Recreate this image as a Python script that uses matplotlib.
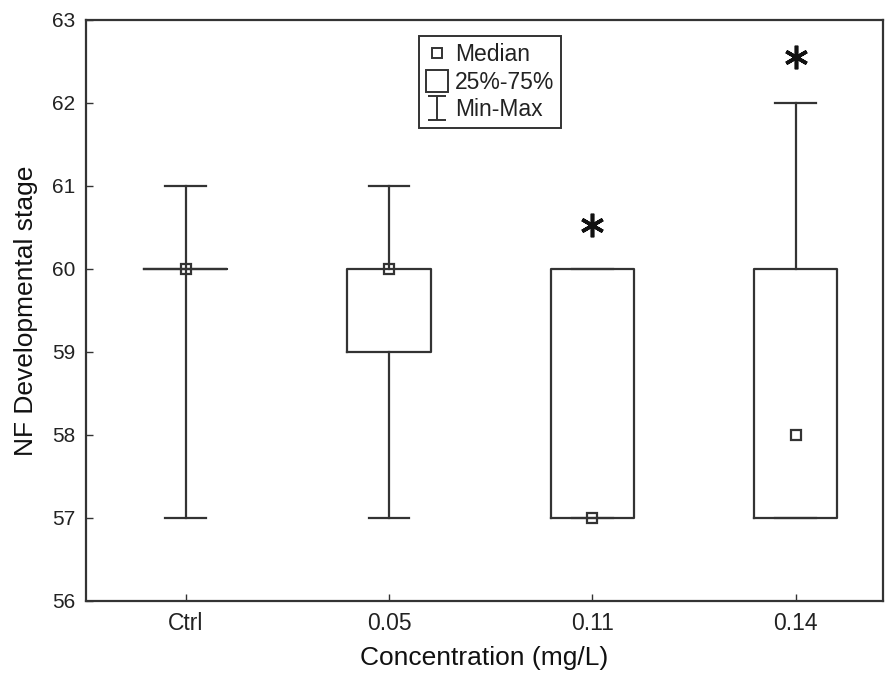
import matplotlib
matplotlib.use('Agg')
import matplotlib.pyplot as plt
from matplotlib.lines import Line2D
from matplotlib.path import Path

plt.rcParams['font.family'] = ['Liberation Sans', 'DejaVu Sans']

categories = ['Ctrl', '0.05', '0.11', '0.14']
medians = [60, 60, 57, 58]
q1 = [60, 59, 57, 57]
q3 = [60, 60, 60, 60]
mins = [57, 57, 57, 57]
maxs = [61, 61, 60, 62]
star_y = [None, None, 60.53, 62.55]

ink = '#333333'
txt = '#222222'

fig = plt.figure(figsize=(8.85, 6.82), dpi=100)
ax = fig.add_axes([0.0972, 0.1188, 0.9005, 0.852])

stats = []
for i, c in enumerate(categories):
    stats.append(dict(label=c, med=medians[i], q1=q1[i], q3=q3[i],
                      whislo=mins[i], whishi=maxs[i]))

pos = list(range(len(categories)))
ax.bxp(stats, positions=pos, widths=0.41, capwidths=0.2, showfliers=False,
       boxprops=dict(color=ink, linewidth=1.6),
       whiskerprops=dict(color=ink, linewidth=1.6),
       capprops=dict(color=ink, linewidth=1.6),
       medianprops=dict(linestyle='none'))
ax.plot(pos, medians, 's', mfc='none', mec=ink, mew=1.6, ms=7.5, linestyle='none')

for x, y in zip(pos, star_y):
    if y is not None:
        ax.plot(x, y, marker=(6, 2, 0), color='#111111', ms=17, mew=2.6)

ax.set_xlim(-0.49, 3.43)
ax.set_ylim(56, 63)
ax.set_xticks(pos)
ax.set_xticklabels(categories)
ax.set_yticks(range(56, 64))
ax.tick_params(direction='in', length=5, width=1, color=ink, labelcolor=txt)
ax.tick_params(axis='y', labelsize=15, pad=8)
ax.tick_params(axis='x', labelsize=16.5, pad=8)
for s in ax.spines.values():
    s.set_color(ink)
    s.set_linewidth(1.6)

ax.set_xlabel('Concentration (mg/L)', fontsize=19, labelpad=8, color='#111111')
ax.set_ylabel('NF Developmental stage', fontsize=19, labelpad=10, color='#111111')

# legend handles: small square, big square, min-max bar
cap_path = Path([(-0.75, -1), (0.75, -1), (0, -1), (0, 1), (-0.75, 1), (0.75, 1)],
                [Path.MOVETO, Path.LINETO, Path.MOVETO, Path.LINETO, Path.MOVETO, Path.LINETO])
handles = [
    Line2D([], [], marker='s', mfc='none', mec=ink, mew=1.4, ms=7.5, linestyle='none'),
    Line2D([], [], marker='s', mfc='none', mec=ink, mew=1.4, ms=16, linestyle='none'),
    Line2D([], [], marker=cap_path, mfc='none', mec=ink, mew=1.4, ms=17, linestyle='none'),
]
leg = ax.legend(handles, ['Median', '25%-75%', 'Min-Max'], loc='upper left',
                bbox_to_anchor=(0.418, 0.972), borderaxespad=0, fancybox=False,
                edgecolor=ink, framealpha=1, fontsize=16.5, handlelength=1.0,
                handletextpad=0.25, labelspacing=0.2, borderpad=0.3)
leg.get_frame().set_linewidth(1.4)
for t in leg.get_texts():
    t.set_color(txt)

fig.savefig('out.png', dpi=100)
